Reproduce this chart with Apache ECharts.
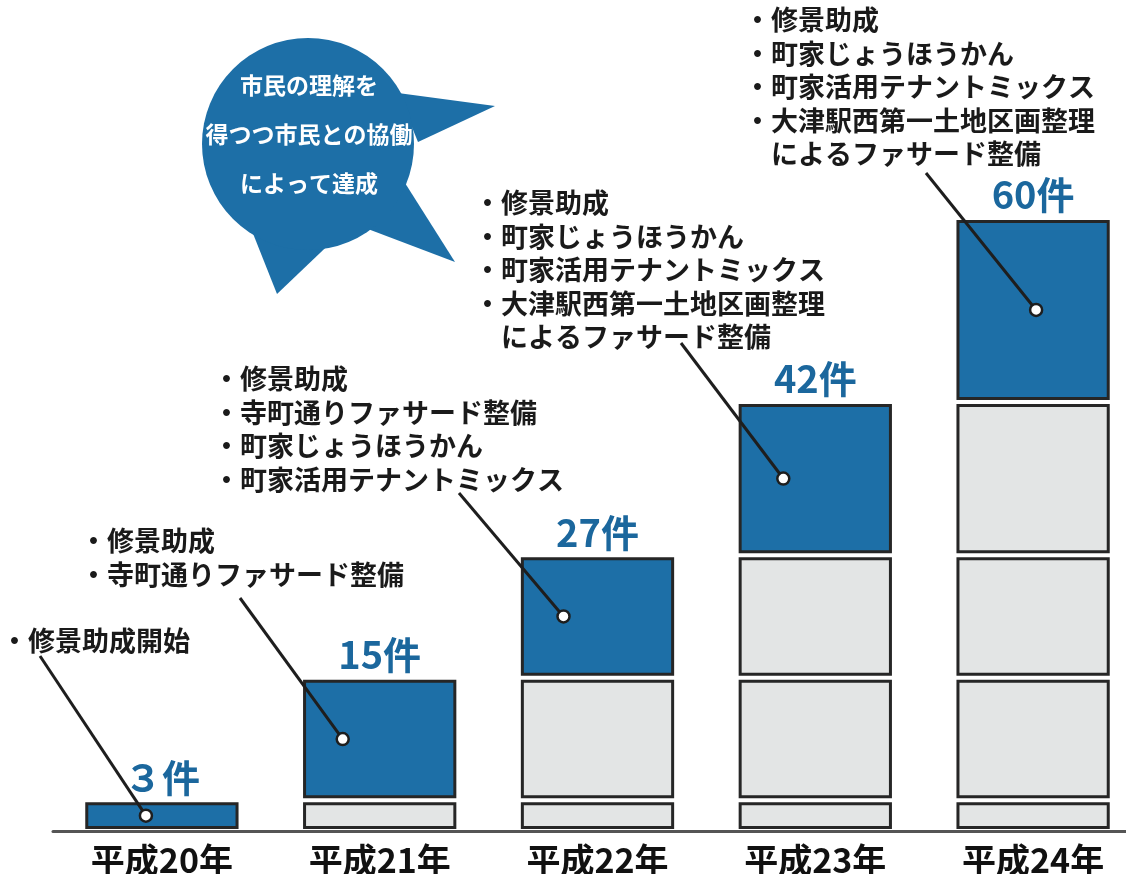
<!DOCTYPE html>
<html>
<head>
<meta charset="utf-8">
<script src="https://cdn.jsdelivr.net/npm/echarts@6/dist/echarts.min.js"></script>
<style>
  html, body { margin: 0; padding: 0; background: #fff; }
  #chart { width: 1126px; height: 874px; }
</style>
</head>
<body>
<div id="chart"></div>
<script>
// データ
const years = ['平成20年', '平成21年', '平成22年', '平成23年', '平成24年'];
const added = [3, 12, 12, 15, 18];      // その年に加わった件数
const totals = [3, 15, 27, 42, 60];     // 累計件数
const notes = [
  ['・修景助成開始'],
  ['・修景助成', '・寺町通りファサード整備'],
  ['・修景助成', '・寺町通りファサード整備', '・町家じょうほうかん', '・町家活用テナントミックス'],
  ['・修景助成', '・町家じょうほうかん', '・町家活用テナントミックス', '・大津駅西第一土地区画整理', '　によるファサード整備'],
  ['・修景助成', '・町家じょうほうかん', '・町家活用テナントミックス', '・大津駅西第一土地区画整理', '　によるファサード整備']
];
const bubbleLines = ['市民の理解を', '得つつ市民との協働', 'によって達成'];

// レイアウト (px)
const noteBox = [[1, 624], [80, 524], [213, 362], [474, 186], [744, 3]];
const leaderFrom = [[40, 656], [240, 598], [459, 493], [681, 343], [926, 173]];
const dotDx = [-16, -37, -34, -32, 3];

const BLUE = '#1d6fa7';
const BLUE_TEXT = '#1b679d';
const GRAY = '#e3e5e5';
const EDGE = '#262626';
const JP = '"Noto Sans CJK JP", sans-serif';

// 積み上げ区画
const segments = [];
years.forEach((y, i) => {
  let base = 0;
  for (let j = 0; j <= i; j++) {
    segments.push([i, base, base + added[j], j === i ? 1 : 0]);
    base += added[j];
  }
});
const newSegs = years.map((y, i) => [i, totals[i] - added[i], totals[i]]);

function countLabel(n) {
  return (n < 10 ? String.fromCharCode(0xFF10 + n) : String(n)) + '件';
}

function renderSeg(params, api) {
  const i = api.value(0);
  const b = api.coord([i, api.value(1)]);
  const t = api.coord([i, api.value(2)]);
  const w = api.size([1, 0])[0] * 0.69;
  return {
    type: 'rect',
    shape: { x: b[0] - w / 2, y: t[1] + 3.5, width: w, height: b[1] - t[1] - 7 },
    style: { fill: api.value(3) ? BLUE : GRAY, stroke: EDGE, lineWidth: 3 }
  };
}

function renderNote(params, api) {
  const k = params.dataIndex;
  const i = api.value(0);
  const b = api.coord([i, api.value(1)]);
  const t = api.coord([i, api.value(2)]);
  const dot = [b[0] + dotDx[k], (b[1] + t[1]) / 2];
  return {
    type: 'group',
    children: [
      {
        type: 'line',
        shape: { x1: leaderFrom[k][0], y1: leaderFrom[k][1], x2: dot[0], y2: dot[1] },
        style: { stroke: '#1e1e1e', lineWidth: 3 }
      },
      {
        type: 'circle',
        shape: { cx: dot[0], cy: dot[1], r: 6 },
        style: { fill: '#fff', stroke: '#1e1e1e', lineWidth: 2.5 }
      },
      {
        type: 'text',
        x: t[0], y: t[1] - 4,
        style: {
          text: countLabel(totals[k]),
          fill: BLUE_TEXT,
          font: 'bold 38px "Liberation Sans Narrow", "Noto Sans CJK JP", sans-serif',
          align: 'center', verticalAlign: 'bottom'
        }
      },
      {
        type: 'text',
        x: noteBox[k][0], y: noteBox[k][1],
        style: {
          text: notes[k].join('\n'),
          fill: '#1a1a1a',
          fontSize: 27, fontWeight: 'bold', fontFamily: JP,
          lineHeight: 33.5,
          align: 'left', verticalAlign: 'top'
        }
      }
    ]
  };
}

const chart = echarts.init(document.getElementById('chart'));
chart.setOption({
  animation: false,
  backgroundColor: '#fff',
  grid: { left: 53, right: -16, top: 218, bottom: 43, outerBoundsMode: 'none' },
  xAxis: {
    type: 'category',
    data: years,
    axisLine: { lineStyle: { color: '#555', width: 3 } },
    axisTick: { show: false },
    axisLabel: {
      margin: 12, fontSize: 34, fontWeight: 'bold', color: '#111', fontFamily: JP
    }
  },
  yAxis: { type: 'value', min: 0, max: 60, show: false },
  graphic: [
    { type: 'polygon', shape: { points: [[398, 93], [495, 106], [418, 142]] }, style: { fill: BLUE } },
    { type: 'polygon', shape: { points: [[405, 183], [455, 262], [360, 226]] }, style: { fill: BLUE } },
    { type: 'polygon', shape: { points: [[250, 226], [277, 294], [342, 232]] }, style: { fill: BLUE } },
    { type: 'circle', shape: { cx: 308, cy: 144, r: 106 }, style: { fill: BLUE } },
    {
      type: 'text', x: 309, y: 134,
      style: {
        text: bubbleLines.join('\n'), fill: '#fff',
        fontSize: 23, fontWeight: 'bold', fontFamily: JP, lineHeight: 49,
        align: 'center', verticalAlign: 'middle'
      }
    }
  ],
  series: [
    {
      type: 'custom',
      renderItem: renderSeg,
      clip: false,
      encode: { x: 0, y: [1, 2] },
      data: segments,
      z: 2
    },
    {
      type: 'custom',
      renderItem: renderNote,
      clip: false,
      encode: { x: 0, y: [1, 2] },
      data: newSegs,
      z: 3
    }
  ]
});
</script>
</body>
</html>
